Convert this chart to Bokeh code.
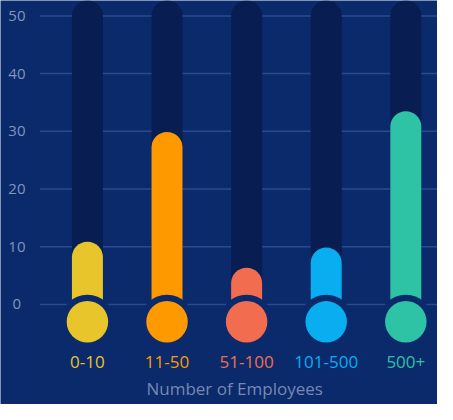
from bokeh.plotting import figure
from bokeh.models import Range1d, ColumnDataSource
from bokeh.core.properties import value
from bokeh.embed import file_html
from bokeh.resources import INLINE

# ---- data ----
categories = ["0-10", "11-50", "51-100", "101-500", "500+"]
values = [8.2, 27.2, 3.7, 7.2, 30.8]
track_max = 50
colors = ["#E8C52A", "#FF9900", "#F26D50", "#08AEEF", "#2EC3A5"]
y_ticks = [0, 10, 20, 30, 40, 50]
x_title = "Number of Employees"

# ---- style / layout ----
BG = "#0a2a6b"
TRACK = "#081d52"
FONT = "Open Sans"
X0, X1 = -1.092, 4.398
GRID_X0 = -0.596
TICK_X = -0.886

n = len(categories)
xs = list(range(n))
src = ColumnDataSource(dict(
    x=xs, cat=categories, v=values, color=colors,
    zero=[0] * n, top=[track_max] * n,
    cy=[-3.0] * n, ly=[-10.0] * n,
))
tsrc = ColumnDataSource(dict(
    y=y_ticks, lab=[str(t) for t in y_ticks],
    gx0=[GRID_X0] * len(y_ticks), gx1=[X1] * len(y_ticks),
    tx=[TICK_X] * len(y_ticks),
))

p = figure(width=437, height=404,
           x_range=Range1d(X0, X1), y_range=Range1d(-17.33, 52.67),
           output_backend="svg", toolbar_location=None,
           x_axis_location=None, y_axis_location=None,
           min_border_left=0, min_border_right=0,
           min_border_top=0, min_border_bottom=0)
p.background_fill_color = BG
p.border_fill_color = BG
p.outline_line_color = None
p.xgrid.visible = False
p.ygrid.visible = False

# grid lines
p.segment(x0="gx0", y0="y", x1="gx1", y1="y", source=tsrc,
          line_color="#5573ad", line_alpha=0.45, line_width=1.5)
# tick labels
p.text(x="tx", y="y", text="lab", source=tsrc, text_color="#8294bf",
       text_align="center", text_baseline="middle",
       text_font=value(FONT), text_font_size="15px")

# tracks
p.segment(x0="x", y0="zero", x1="x", y1="top", source=src,
          line_color=TRACK, line_width=31, line_cap="round")
# value bars
p.segment(x0="x", y0="zero", x1="x", y1="v", source=src,
          line_color="color", line_width=31, line_cap="round")
# ring cut-out
p.scatter(x="x", y="cy", source=src, size=54, fill_color=BG, line_color=None)
# bulbs
p.scatter(x="x", y="cy", source=src, size=41.5, fill_color="color", line_color=None)
# category labels
p.text(x="x", y="ly", text="cat", source=src, text_color="color",
       text_align="center", text_baseline="middle",
       text_font=value(FONT), text_font_size="17px")
# axis title
p.text(x=[1.85], y=[-14.6], text=[x_title], text_color="#7688b3",
       text_align="center", text_baseline="middle",
       text_font=value(FONT), text_font_size="17px")

open("out.html", "w").write(file_html(p, INLINE))
